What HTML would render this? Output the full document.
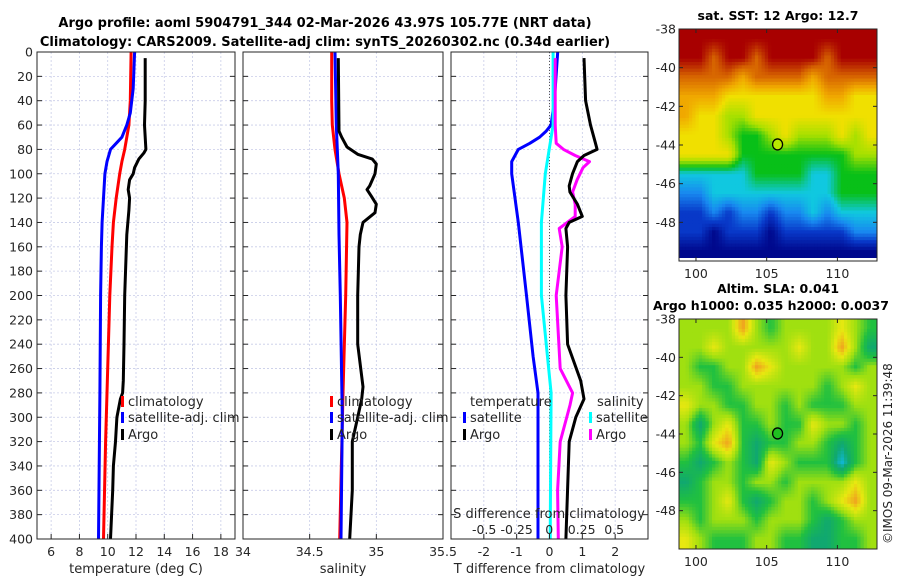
<!DOCTYPE html>
<html><head><meta charset="utf-8"><style>
body{margin:0;background:#fff;}
svg{display:block;font-family:"DejaVu Sans","Liberation Sans",sans-serif;}
</style></head><body>
<svg id="fig" width="900" height="580" viewBox="0 0 900 580" xmlns="http://www.w3.org/2000/svg">
<text x="325" y="27" text-anchor="middle" font-size="13" font-weight="bold">Argo profile: aoml 5904791_344 02-Mar-2026 43.97S 105.77E (NRT data)</text>
<text x="325" y="46" text-anchor="middle" font-size="13" font-weight="bold">Climatology: CARS2009. Satellite-adj clim: synTS_20260302.nc (0.34d earlier)</text>
<text x="778" y="20" text-anchor="middle" font-size="12.5" font-weight="bold">sat. SST: 12 Argo: 12.7</text>
<text x="778" y="293" text-anchor="middle" font-size="12.5" font-weight="bold">Altim. SLA: 0.041</text>
<text x="653" y="310" font-size="12.5" font-weight="bold">Argo h1000: 0.035 h2000: 0.0037</text>
<text transform="translate(892,544) rotate(-90)" font-size="12" fill="#262626">©IMOS 09-Mar-2026 11:39:48</text>
<g id="g"></g>
</svg>
<script>
// ---- profile data (depth in dbar) ----
const depthTicks=[0,20,40,60,80,100,120,140,160,180,200,220,240,260,280,300,320,340,360,380,400];
const tempTicks=[6,8,10,12,14,16,18];
const salTicks=[34,34.5,35,35.5];
const salTickLabels=["34","34.5","35","35.5"];
const tdiffTicks=[-2,-1,0,1,2];
const sdiffTicks=[-0.5,-0.25,0,0.25,0.5];
const sdiffTickLabels=["-0.5","-0.25","0","0.25","0.5"];

const climTDepth=[0,40,60,70,80,90,100,120,140,160,200,240,280,320,400];
const climT=[11.65,11.6,11.5,11.35,11.2,11.0,10.85,10.6,10.4,10.3,10.15,10.05,9.95,9.85,9.7];
const satTDepth=[0,30,50,60,70,75,80,90,100,120,140,160,200,280,400];
const satT=[11.9,11.8,11.6,11.35,11.0,10.6,10.2,9.95,9.8,9.7,9.6,9.55,9.5,9.45,9.35];
const argoTDepth=[5,40,60,80,83,88,95,100,105,113,120,130,150,200,240,270,280,285,300,320,340,360,400];
const argoT=[12.65,12.65,12.6,12.7,12.55,12.2,11.9,11.8,11.55,11.45,11.55,11.5,11.35,11.2,11.15,11.1,11.05,10.9,10.65,10.55,10.4,10.35,10.2];

const climSDepth=[0,40,60,80,100,120,140,200,280,400];
const climS=[34.665,34.665,34.67,34.69,34.72,34.76,34.78,34.77,34.75,34.725];
const satSDepth=[0,60,100,150,200,300,400];
const satS=[34.69,34.7,34.715,34.72,34.73,34.745,34.735];
const argoSDepth=[5,65,70,78,84,88,92,100,110,113,118,125,132,140,150,160,200,240,275,285,300,320,360,400];
const argoS=[34.715,34.72,34.74,34.78,34.86,34.97,35.0,34.99,34.95,34.93,34.96,35.0,34.99,34.9,34.88,34.87,34.86,34.86,34.9,34.89,34.86,34.82,34.82,34.8];

const satTdDepth=[0,40,60,65,70,75,80,90,100,140,200,250,280,400];
const satTd=[0.25,0.15,0.05,-0.1,-0.3,-0.6,-0.95,-1.15,-1.15,-0.95,-0.7,-0.5,-0.35,-0.35];
const argoTdDepth=[5,40,60,75,80,85,90,100,110,115,125,135,140,145,160,200,240,270,285,300,320,400];
const argoTd=[1.05,1.1,1.25,1.4,1.45,1.05,0.85,0.7,0.6,0.62,0.85,1.0,0.6,0.5,0.55,0.5,0.55,0.95,1.05,0.8,0.6,0.5];
const satSdDepth=[0,60,80,100,140,200,280,400];
const satSd=[0.03,0.03,0.0,-0.03,-0.06,-0.06,0.015,0.008];
const argoSdDepth=[5,60,75,80,85,90,95,105,115,125,135,145,160,200,260,280,290,320,360,400];
const argoSd=[0.046,0.046,0.054,0.11,0.2,0.31,0.26,0.215,0.18,0.2,0.2,0.077,0.1,0.054,0.085,0.18,0.16,0.085,0.065,0.07];

// ---- map data ----
const lonTicks=[100,105,110];
const latTicks=[-38,-40,-42,-44,-46,-48];
const sstGrid=[
[9,9,9,9,9,9,9,9,9,9,9,9,9,9],
[9,9,8,9,9,8,9,9,9,9,8,9,9,9],
[8,8,8,8,7,8,8,8,8,7,8,8,8,8],
[7,7,7,6,6,6,6,6,6,6,7,7,6,6],
[7,6,6,5,5,6,6,6,6,6,6,6,6,6],
[6,6,6,5,4,4,5,6,5,5,5,6,5,6],
[6,6,6,6,4,4,4,4,4,4,4,4,5,5],
[3,3,3,3,3,4,4,4,4,3,3,4,4,4],
[2,2,3,3,3,3,3,3,3,3,3,4,4,4],
[1,1,2,1,2,2,1,2,2,3,2,3,3,3],
[1,1,0,1,1,1,0,1,1,1,1,1,2,2],
[0,0,0,0,0,0,0,0,0,0,0,0,0,0]];
const slaGrid=[
[3,3,3,3,5,3,2,3,3,3,3,4,3,2],
[3,3,4,3,3,3,3,3,4,3,3,5,3,1],
[3,2,2,3,3,5,4,3,3,3,3,3,2,3],
[3,3,2,2,3,3,3,3,3,3,2,3,4,3],
[4,3,3,2,2,3,3,2,3,2,2,2,3,3],
[3,1,3,4,2,2,3,2,2,4,3,3,2,3],
[3,2,4,5,2,1,2,2,3,3,2,1,2,3],
[2,1,2,3,2,1,4,3,2,2,2,0,2,3],
[1,2,3,3,2,3,3,2,3,3,3,3,4,3],
[2,2,3,4,2,1,2,3,3,2,3,4,5,3],
[3,2,3,3,3,2,3,3,3,2,1,2,3,3],
[4,3,2,2,2,3,3,2,2,1,1,2,2,3]];
const sstPalette=["#00088c","#0838c8","#1888f0","#10c8e0","#08c018","#a8e000","#f0e000","#f0a800","#d86800","#a80000"];
const slaPalette=["#10b8d8","#10a870","#20c040","#a0e010","#e8e810","#f0a020"];
const argoLon=105.77, argoLat=-43.97;

const NS="http://www.w3.org/2000/svg";
const G=document.getElementById('g');
function mk(tag,attrs,parent){const e=document.createElementNS(NS,tag);for(const k in attrs)e.setAttribute(k,attrs[k]);(parent||G).appendChild(e);return e;}

const yTop=52,yBot=539;
function yD(d){return yTop+(d/400)*(yBot-yTop);}
const panels=[{x0:37,x1:235,lo:5,hi:19},{x0:243,x1:443,lo:34,hi:35.5},{x0:451,x1:648,lo:-3,hi:3}];
function xf(p,v){return p.x0+(v-p.lo)/(p.hi-p.lo)*(p.x1-p.x0);}
const sLo=-0.755,sHi=0.76;
function xS(v){const p=panels[2];return p.x0+(v-sLo)/(sHi-sLo)*(p.x1-p.x0);}

function grid(p,xt,name){
  const g=mk('g',{});
  
  
  depthTicks.forEach(d=>{mk('line',{x1:p.x0,x2:p.x1,y1:yD(d),y2:yD(d),stroke:'#c8cce8','stroke-width':0.8,'stroke-dasharray':'2,2'},g);});
  xt.forEach(v=>{const x=xf(p,v);mk('line',{x1:x,x2:x,y1:yTop,y2:yBot,stroke:'#c8cce8','stroke-width':0.8,'stroke-dasharray':'2,2'},g);});
}
function frame(p,xt,xl,name,title,showY){
  const g=mk('g',{});
  
  
  mk('rect',{x:p.x0,y:yTop,width:p.x1-p.x0,height:yBot-yTop,fill:'none',stroke:'#262626','stroke-width':1},g);
  depthTicks.forEach(d=>{mk('line',{x1:p.x0,x2:p.x0+5,y1:yD(d),y2:yD(d),stroke:'#262626'},g);mk('line',{x1:p.x1-5,x2:p.x1,y1:yD(d),y2:yD(d),stroke:'#262626'},g);
    if(showY){const t=mk('text',{x:p.x0-4,y:yD(d)+4.5,'text-anchor':'end','font-size':12.5,fill:'#262626'},g);t.textContent=d;}});
  xt.forEach((v,i)=>{const x=xf(p,v);mk('line',{x1:x,x2:x,y1:yBot,y2:yBot-5,stroke:'#262626'},g);
    const t=mk('text',{x:x,y:556,'text-anchor':'middle','font-size':12.5,fill:'#262626'},g);t.textContent=xl[i];});
  const tt=mk('text',{x:(p.x0+p.x1)/2,y:573,'text-anchor':'middle','font-size':13,fill:'#262626'},g);
  
  
  tt.textContent=title;
}
function line(p,xs,ds,color,name,useS){
  const pts=xs.map((v,i)=>(useS?xS(v):xf(p,v)).toFixed(1)+','+yD(ds[i]).toFixed(1)).join(' ');
  const l=mk('polyline',{points:pts,fill:'none',stroke:color,'stroke-width':3,'stroke-linejoin':'round'});
  
  
}
function legend(x,y,color,label,name){
  const g=mk('g',{});
  
  
  if(color) mk('rect',{x:x,y:y-10,width:3,height:11,fill:color},g);
  const t=mk('text',{x:x+(color?7:0),y:y,'font-size':13,fill:'#262626'},g);t.textContent=label;
}

grid(panels[0],tempTicks,'temperature');
line(panels[0],climT,climTDepth,'#ff0000','temperature-climatology-line');
line(panels[0],satT,satTDepth,'#0000ff','temperature-satellite-line');
line(panels[0],argoT,argoTDepth,'#000000','temperature-argo-line');
frame(panels[0],tempTicks,tempTicks.map(String),'temperature','temperature (deg C)',true);
legend(121,406,'#ff0000','climatology','legend-climatology-temp');
legend(121,422,'#0000ff','satellite-adj. clim','legend-satellite-temp');
legend(121,439,'#000000','Argo','legend-argo-temp');

grid(panels[1],salTicks,'salinity');
line(panels[1],climS,climSDepth,'#ff0000','salinity-climatology-line');
line(panels[1],satS,satSDepth,'#0000ff','salinity-satellite-line');
line(panels[1],argoS,argoSDepth,'#000000','salinity-argo-line');
frame(panels[1],salTicks,salTickLabels,'salinity','salinity',false);
legend(330,406,'#ff0000','climatology','legend-climatology-sal');
legend(330,422,'#0000ff','satellite-adj. clim','legend-satellite-sal');
legend(330,439,'#000000','Argo','legend-argo-sal');

grid(panels[2],tdiffTicks,'difference');
mk('line',{x1:xf(panels[2],0),x2:xf(panels[2],0),y1:yTop,y2:yBot,stroke:'#555','stroke-width':1,'stroke-dasharray':'1,2'});
line(panels[2],satTd,satTdDepth,'#0000ff','tdiff-satellite-line');
line(panels[2],satSd,satSdDepth,'#00ffff','sdiff-satellite-line',true);
line(panels[2],argoSd,argoSdDepth,'#ff00ff','sdiff-argo-line',true);
line(panels[2],argoTd,argoTdDepth,'#000000','tdiff-argo-line');
frame(panels[2],tdiffTicks,tdiffTicks.map(String),'difference','T difference from climatology',false);
legend(470,406,null,'temperature','legend-temperature-header');
legend(463,422,'#0000ff','satellite','legend-tdiff-satellite');
legend(463,439,'#000000','Argo','legend-tdiff-argo');
legend(597,406,null,'salinity','legend-salinity-header');
legend(589,422,'#00ffff','satellite','legend-sdiff-satellite');
legend(589,439,'#ff00ff','Argo','legend-sdiff-argo');
{const t=mk('text',{x:549,y:518,'text-anchor':'middle','font-size':13,fill:'#262626'});


t.textContent='S difference from climatology';}
sdiffTicks.forEach((v,i)=>{const t=mk('text',{x:xS(v),y:534,'text-anchor':'middle','font-size':12.5,fill:'#262626'});


t.textContent=sdiffTickLabels[i];});

function hex(c){return [parseInt(c.slice(1,3),16),parseInt(c.slice(3,5),16),parseInt(c.slice(5,7),16)];}
function palColor(pal,v){v=Math.max(0,Math.min(pal.length-1,v));const i=Math.min(pal.length-2,Math.floor(v)),f=v-i;
  const a=hex(pal[i]),b=hex(pal[i+1]);return 'rgb('+a.map((x,k)=>Math.round(x+(b[k]-x)*f)).join(',')+')';}
function sample(gd,r,c){const R=gd.length,C=gd[0].length;
  r=Math.max(0,Math.min(R-1,r));c=Math.max(0,Math.min(C-1,c));
  const r0=Math.min(R-2,Math.floor(r)),c0=Math.min(C-2,Math.floor(c)),fr=r-r0,fc=c-c0;
  return gd[r0][c0]*(1-fr)*(1-fc)+gd[r0][c0+1]*(1-fr)*fc+gd[r0+1][c0]*fr*(1-fc)+gd[r0+1][c0+1]*fr*fc;}

function map(y0,y1,gridData,pal,name,markerFill,whiteStrip){
  const x0=679,x1=877,lonLo=98.8,lonHi=112.8,latTop=-38,latBot=-50;
  const xL=v=>x0+(v-lonLo)/(lonHi-lonLo)*(x1-x0);
  const yL=v=>y0+(latTop-v)/(latTop-latBot)*(y1-y0);
  const g=mk('g',{});
  
  
  const step=3.3;
  for(let y=y0;y<y1;y+=step){for(let x=x0;x<x1;x+=step){
    const c=(x+step/2-x0)/(x1-x0)*14-0.5, r=(y+step/2-y0)/(y1-y0)*12-0.5;
    mk('rect',{x:x.toFixed(1),y:y.toFixed(1),width:(Math.min(step,x1-x)+0.4).toFixed(1),height:(Math.min(step,y1-y)+0.4).toFixed(1),fill:palColor(pal,sample(gridData,r,c))},g);
  }}
  if(whiteStrip) mk('rect',{x:x0,y:y1-3,width:x1-x0,height:3,fill:'#fff'},g);
  mk('rect',{x:x0,y:y0,width:x1-x0,height:y1-y0,fill:'none',stroke:'#262626'},g);
  latTicks.forEach(v=>{const y=yL(v);mk('line',{x1:x0,x2:x0+4,y1:y,y2:y,stroke:'#262626'},g);mk('line',{x1:x1-4,x2:x1,y1:y,y2:y,stroke:'#262626'},g);
    const t=mk('text',{x:x0-3,y:y+4.5,'text-anchor':'end','font-size':12.5,fill:'#262626'},g);t.textContent=v;});
  lonTicks.forEach(v=>{const x=xL(v);mk('line',{x1:x,x2:x,y1:y1,y2:y1-4,stroke:'#262626'},g);mk('line',{x1:x,x2:x,y1:y0,y2:y0+4,stroke:'#262626'},g);
    const t=mk('text',{x:x,y:y1+17,'text-anchor':'middle','font-size':12.5,fill:'#262626'},g);t.textContent=v;});
  const m=mk('ellipse',{cx:xL(argoLon),cy:yL(argoLat),rx:5,ry:5.5,fill:markerFill,stroke:'#000','stroke-width':1.3},g);
  
  
}
map(29,261,sstGrid,sstPalette,'sst-map','#b8e800',true);
map(319,549,slaGrid,slaPalette,'sla-map','#20c020',false);
</script>
</body></html>
